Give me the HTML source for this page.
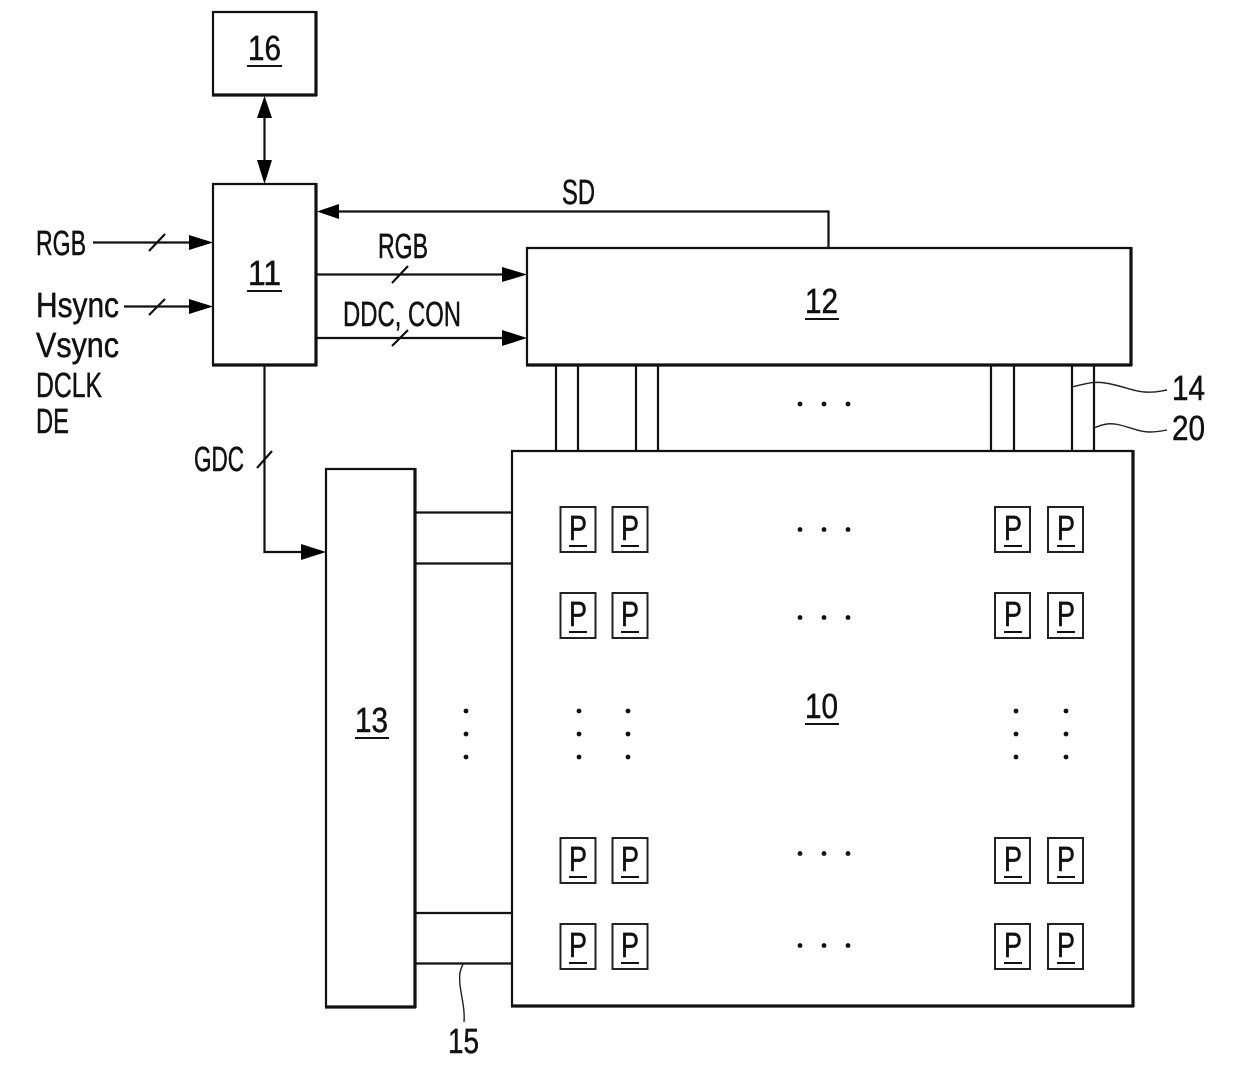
<!DOCTYPE html>
<html><head><meta charset="utf-8"><style>
html,body{margin:0;padding:0;background:#fff}
svg{display:block}
text{font-family:"Liberation Sans",sans-serif;font-size:35px;fill:#111;stroke:#111;stroke-width:.5px;text-rendering:geometricPrecision}
.p{font-size:35px}
.l{stroke:#111;stroke-width:2.2;fill:none}
.t{stroke:#111;stroke-width:3.2;fill:none}
.b{stroke:#222;stroke-width:2;fill:#fff}
.u{stroke:#111;stroke-width:2}
.c{stroke:#222;stroke-width:1.4;fill:none}
.a{fill:#000}
.d{fill:#111}
</style></head><body>
<svg width="1240" height="1090" viewBox="0 0 1240 1090" xmlns="http://www.w3.org/2000/svg">
<!-- boxes -->
<path class="l" d="M213 95V12H316"/><path class="t" d="M316 11V96M212 95H317"/>
<path class="l" d="M213 365V184H316"/><path class="t" d="M316 183V366M212 365H317"/>
<path class="l" d="M527 365V248H1131"/><path class="t" d="M1131 247V366M526 365H1132"/>
<path class="l" d="M326 1007V469H415"/><path class="t" d="M415 468V1008M325 1007H416"/>
<path class="l" d="M512 1006V451H1133"/><path class="t" d="M1133 450V1007M511 1006H1134"/>
<!-- connectors -->
<path class="l" d="M264.500 110V170"/>
<path class="a" d="M264.500 96L257 118H272ZM264.500 184L257 160H272Z"/>
<path class="l" d="M93 242.500H195M124 306.500H195"/>
<path class="a" d="M213 242.500L189 235V250ZM213 306.500L189 299V314Z"/>
<path class="l" d="M149 251L165 234M149 315L165 299"/>
<path class="l" d="M828.500 248V211.500H335"/>
<path class="a" d="M317 211.500L339 204V219Z"/>
<path class="l" d="M316 274.500H510M316 338H510"/>
<path class="a" d="M527 274.500L502 267V282ZM527 338L502 330V346Z"/>
<path class="l" d="M392 283L408 266M392 346L408 330"/>
<path class="l" d="M264.500 366V552H305"/>
<path class="a" d="M326 552L301 544V560Z"/>
<path class="l" d="M257 468L272 451"/>
<!-- verticals 12 to 10 -->
<path class="l" d="M556 365V451M578 365V451M636 365V451M658 365V451M991 365V451M1014 365V451M1072 365V451M1094 365V451"/>
<!-- horizontals 13 to 10 -->
<path class="l" d="M415 512.500H512M415 563.500H512M415 913H512M415 963.500H512"/>
<!-- callouts -->
<path class="c" d="M1072 387C1085 384 1093 381 1105 383C1120 385 1135 392 1145 392C1155 393 1160 391 1167 390"/>
<path class="c" d="M1094 428C1105 423 1112 423 1120 425C1132 428 1140 432 1150 432C1157 432 1162 431 1167 430"/>
<path class="c" d="M463 964C460 970 459 975 460 985C462 1000 465 1010 464 1022"/>
<!-- labels -->
<text x="36" y="255" textLength="50" lengthAdjust="spacingAndGlyphs">RGB</text>
<text x="36" y="317" textLength="83" lengthAdjust="spacingAndGlyphs">Hsync</text>
<text x="36" y="357" textLength="83" lengthAdjust="spacingAndGlyphs">Vsync</text>
<text x="36" y="397" textLength="66" lengthAdjust="spacingAndGlyphs">DCLK</text>
<text x="36" y="433" textLength="33" lengthAdjust="spacingAndGlyphs">DE</text>
<text x="194" y="471" textLength="50" lengthAdjust="spacingAndGlyphs">GDC</text>
<text x="378" y="258" textLength="50" lengthAdjust="spacingAndGlyphs">RGB</text>
<text x="343" y="326" textLength="118" lengthAdjust="spacingAndGlyphs">DDC, CON</text>
<text x="562" y="204" textLength="33" lengthAdjust="spacingAndGlyphs">SD</text>
<text x="1172" y="400" textLength="33" lengthAdjust="spacingAndGlyphs">14</text>
<text x="1172" y="440" textLength="33" lengthAdjust="spacingAndGlyphs">20</text>
<text x="448" y="1053" textLength="31" lengthAdjust="spacingAndGlyphs">15</text>
<!-- numbered underlined -->
<text x="248" y="60" textLength="33" lengthAdjust="spacingAndGlyphs">16</text><path class="u" d="M247 66H282"/>
<text x="248" y="285" textLength="33" lengthAdjust="spacingAndGlyphs">11</text><path class="u" d="M247 291H282"/>
<text x="805" y="313" textLength="33" lengthAdjust="spacingAndGlyphs">12</text><path class="u" d="M805 319H839"/>
<text x="355" y="732" textLength="33" lengthAdjust="spacingAndGlyphs">13</text><path class="u" d="M355 738H389"/>
<text x="805" y="718" textLength="33" lengthAdjust="spacingAndGlyphs">10</text><path class="u" d="M805 724H839"/>
<!-- P row 1 -->
<rect class="b" x="560.500" y="507" width="35" height="45"/><text class="p" x="569" y="540" textLength="18" lengthAdjust="spacingAndGlyphs">P</text><path class="u" d="M569 546H587"/>
<rect class="b" x="612.500" y="507" width="35" height="45"/><text class="p" x="621" y="540" textLength="18" lengthAdjust="spacingAndGlyphs">P</text><path class="u" d="M621 546H639"/>
<rect class="b" x="995" y="507" width="35" height="45"/><text class="p" x="1004" y="540" textLength="18" lengthAdjust="spacingAndGlyphs">P</text><path class="u" d="M1004 546H1022"/>
<rect class="b" x="1048" y="507" width="35" height="45"/><text class="p" x="1057" y="540" textLength="18" lengthAdjust="spacingAndGlyphs">P</text><path class="u" d="M1057 546H1075"/>
<!-- P row 2 -->
<rect class="b" x="560.500" y="593" width="35" height="45"/><text class="p" x="569" y="626" textLength="18" lengthAdjust="spacingAndGlyphs">P</text><path class="u" d="M569 632H587"/>
<rect class="b" x="612.500" y="593" width="35" height="45"/><text class="p" x="621" y="626" textLength="18" lengthAdjust="spacingAndGlyphs">P</text><path class="u" d="M621 632H639"/>
<rect class="b" x="995" y="593" width="35" height="45"/><text class="p" x="1004" y="626" textLength="18" lengthAdjust="spacingAndGlyphs">P</text><path class="u" d="M1004 632H1022"/>
<rect class="b" x="1048" y="593" width="35" height="45"/><text class="p" x="1057" y="626" textLength="18" lengthAdjust="spacingAndGlyphs">P</text><path class="u" d="M1057 632H1075"/>
<!-- P row 3 -->
<rect class="b" x="560.500" y="838" width="35" height="45"/><text class="p" x="569" y="871" textLength="18" lengthAdjust="spacingAndGlyphs">P</text><path class="u" d="M569 877H587"/>
<rect class="b" x="612.500" y="838" width="35" height="45"/><text class="p" x="621" y="871" textLength="18" lengthAdjust="spacingAndGlyphs">P</text><path class="u" d="M621 877H639"/>
<rect class="b" x="995" y="838" width="35" height="45"/><text class="p" x="1004" y="871" textLength="18" lengthAdjust="spacingAndGlyphs">P</text><path class="u" d="M1004 877H1022"/>
<rect class="b" x="1048" y="838" width="35" height="45"/><text class="p" x="1057" y="871" textLength="18" lengthAdjust="spacingAndGlyphs">P</text><path class="u" d="M1057 877H1075"/>
<!-- P row 4 -->
<rect class="b" x="560.500" y="924" width="35" height="45"/><text class="p" x="569" y="957" textLength="18" lengthAdjust="spacingAndGlyphs">P</text><path class="u" d="M569 963H587"/>
<rect class="b" x="612.500" y="924" width="35" height="45"/><text class="p" x="621" y="957" textLength="18" lengthAdjust="spacingAndGlyphs">P</text><path class="u" d="M621 963H639"/>
<rect class="b" x="995" y="924" width="35" height="45"/><text class="p" x="1004" y="957" textLength="18" lengthAdjust="spacingAndGlyphs">P</text><path class="u" d="M1004 963H1022"/>
<rect class="b" x="1048" y="924" width="35" height="45"/><text class="p" x="1057" y="957" textLength="18" lengthAdjust="spacingAndGlyphs">P</text><path class="u" d="M1057 963H1075"/>
<!-- horizontal dots -->
<g class="d">
<circle cx="800" cy="404" r="2.400"/><circle cx="824" cy="404" r="2.400"/><circle cx="848" cy="404" r="2.400"/>
<circle cx="800" cy="529.500" r="2.400"/><circle cx="824" cy="529.500" r="2.400"/><circle cx="848" cy="529.500" r="2.400"/>
<circle cx="800" cy="617.500" r="2.400"/><circle cx="824" cy="617.500" r="2.400"/><circle cx="848" cy="617.500" r="2.400"/>
<circle cx="800" cy="853.500" r="2.400"/><circle cx="824" cy="853.500" r="2.400"/><circle cx="848" cy="853.500" r="2.400"/>
<circle cx="800" cy="945.500" r="2.400"/><circle cx="824" cy="945.500" r="2.400"/><circle cx="848" cy="945.500" r="2.400"/>
<!-- vertical dots -->
<circle cx="466" cy="711" r="2.400"/><circle cx="466" cy="734" r="2.400"/><circle cx="466" cy="757" r="2.400"/>
<circle cx="579" cy="711" r="2.400"/><circle cx="579" cy="734" r="2.400"/><circle cx="579" cy="757" r="2.400"/>
<circle cx="628" cy="711" r="2.400"/><circle cx="628" cy="734" r="2.400"/><circle cx="628" cy="757" r="2.400"/>
<circle cx="1016" cy="711" r="2.400"/><circle cx="1016" cy="734" r="2.400"/><circle cx="1016" cy="757" r="2.400"/>
<circle cx="1066" cy="711" r="2.400"/><circle cx="1066" cy="734" r="2.400"/><circle cx="1066" cy="757" r="2.400"/>
</g>
</svg>
</body></html>
